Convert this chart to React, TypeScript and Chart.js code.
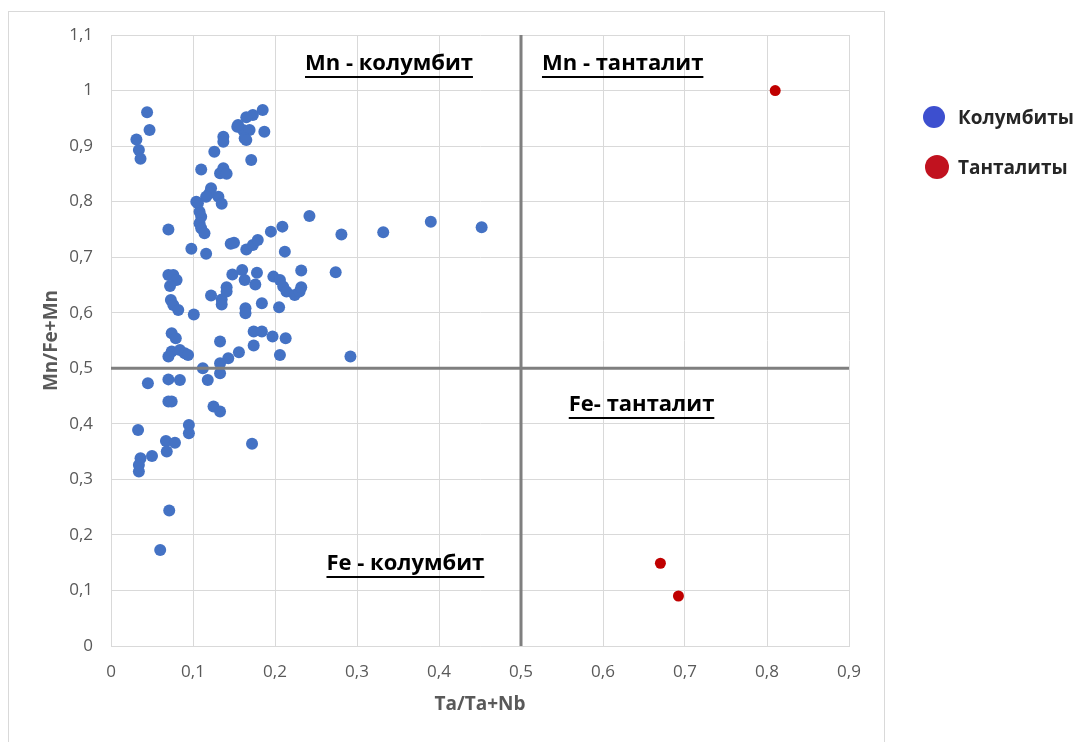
import React, { useEffect, useRef } from 'react';
import { Chart, registerables } from 'chart.js';

Chart.register(...registerables);

// Колумбиты: Ta/(Ta+Nb) and Mn/(Fe+Mn)
const columbiteX = [
  0.044, 0.047, 0.031, 0.034, 0.036,
  0.185, 0.173, 0.165, 0.154, 0.161, 0.169, 0.163, 0.187, 0.137, 0.137, 0.126, 0.171, 0.110, 0.137, 0.133,
  0.141, 0.122, 0.120, 0.116, 0.131, 0.135, 0.106, 0.108, 0.110, 0.108, 0.110, 0.114, 0.070, 0.098, 0.116,
  0.146, 0.150, 0.165, 0.173, 0.179, 0.195, 0.209, 0.212, 0.155, 0.165, 0.104,
  0.242, 0.281, 0.332, 0.390, 0.452,
  0.070, 0.076, 0.080, 0.072, 0.073, 0.076, 0.082, 0.101, 0.122, 0.135, 0.135, 0.141, 0.141, 0.148, 0.160,
  0.163, 0.178, 0.176, 0.164, 0.164, 0.184, 0.205, 0.198, 0.206, 0.210, 0.214, 0.224, 0.230, 0.232, 0.232, 0.274,
  0.074, 0.079, 0.074, 0.070, 0.084, 0.090, 0.094, 0.174, 0.184, 0.197, 0.213, 0.133, 0.174, 0.156, 0.206,
  0.143, 0.133, 0.292, 0.112,
  0.045, 0.070, 0.084, 0.118, 0.133, 0.070, 0.074, 0.125, 0.133, 0.095, 0.095, 0.033, 0.172, 0.067, 0.078,
  0.068, 0.050, 0.036, 0.034, 0.034, 0.071, 0.060,
];
const columbiteY = [
  0.961, 0.929, 0.912, 0.893, 0.877,
  0.965, 0.956, 0.952, 0.935, 0.929, 0.929, 0.914, 0.926, 0.917, 0.908, 0.890, 0.875, 0.858, 0.860, 0.851,
  0.850, 0.824, 0.815, 0.809, 0.809, 0.796, 0.797, 0.782, 0.773, 0.761, 0.752, 0.743, 0.750, 0.715, 0.706,
  0.724, 0.726, 0.714, 0.722, 0.731, 0.746, 0.755, 0.710, 0.938, 0.911, 0.800,
  0.774, 0.741, 0.745, 0.764, 0.754,
  0.668, 0.668, 0.659, 0.648, 0.623, 0.614, 0.605, 0.597, 0.631, 0.624, 0.615, 0.646, 0.638, 0.669, 0.677,
  0.659, 0.672, 0.651, 0.608, 0.599, 0.617, 0.610, 0.665, 0.659, 0.647, 0.638, 0.632, 0.638, 0.646, 0.676, 0.673,
  0.563, 0.554, 0.530, 0.521, 0.533, 0.527, 0.524, 0.566, 0.566, 0.557, 0.554, 0.548, 0.541, 0.529, 0.524,
  0.518, 0.509, 0.521, 0.500,
  0.473, 0.480, 0.479, 0.479, 0.491, 0.440, 0.440, 0.431, 0.422, 0.398, 0.383, 0.389, 0.364, 0.369, 0.366,
  0.350, 0.342, 0.338, 0.326, 0.314, 0.244, 0.173,
];

// Танталиты
const tantaliteX = [0.81, 0.67, 0.692];
const tantaliteY = [1.0, 0.149, 0.09];

const xTicks = [0, 0.1, 0.2, 0.3, 0.4, 0.5, 0.6, 0.7, 0.8, 0.9];
const yTicks = [0, 0.1, 0.2, 0.3, 0.4, 0.5, 0.6, 0.7, 0.8, 0.9, 1.0, 1.1];

const dividerX = 0.5;
const dividerY = 0.5;

const quadrantLabels = ['Mn - колумбит', 'Mn - танталит', 'Fe- танталит', 'Fe - колумбит'];
const quadrantLabelX = [0.339, 0.624, 0.647, 0.359];
const quadrantLabelY = [1.037, 1.037, 0.423, 0.137];

const xTitle = 'Ta/Ta+Nb';
const yTitle = 'Mn/Fe+Mn';
const seriesNames = ['Колумбиты', 'Танталиты'];

const FONT = '"Open Sans", "DejaVu Sans", sans-serif';

const fmt = (v: number) => {
  const r = Math.round(v * 10) / 10;
  return String(r).replace('.', ',');
};

const annotatePlugin = {
  id: 'annotate',
  afterDatasetsDraw(chart: any) {
    const { ctx, scales } = chart;
    const x = scales.x;
    const y = scales.y;
    ctx.save();
    ctx.fillStyle = '#000000';
    ctx.strokeStyle = '#000000';
    ctx.font = `bold 22px ${FONT}`;
    ctx.textAlign = 'center';
    ctx.textBaseline = 'alphabetic';
    quadrantLabels.forEach((t, i) => {
      const px = x.getPixelForValue(quadrantLabelX[i]);
      const py = y.getPixelForValue(quadrantLabelY[i]);
      ctx.fillText(t, px, py);
      const w = ctx.measureText(t).width;
      ctx.lineWidth = 2;
      ctx.beginPath();
      ctx.moveTo(px - w / 2, py + 7);
      ctx.lineTo(px + w / 2, py + 7);
      ctx.stroke();
    });
    ctx.fillStyle = '#595959';
    ctx.font = `bold 19px ${FONT}`;
    ctx.textBaseline = 'middle';
    ctx.fillText(xTitle, (x.left + x.right) / 2, 705);
    ctx.translate(52, (y.top + y.bottom) / 2);
    ctx.rotate(-Math.PI / 2);
    ctx.fillText(yTitle, 0, 0);
    ctx.restore();
  },
};

export default function App() {
  const canvasRef = useRef<HTMLCanvasElement | null>(null);

  useEffect(() => {
    if (!canvasRef.current) return;
    const columbites = columbiteX.map((v, i) => ({ x: v, y: columbiteY[i] }));
    const tantalites = tantaliteX.map((v, i) => ({ x: v, y: tantaliteY[i] }));
    const chart = new Chart(canvasRef.current, {
      type: 'scatter',
      data: {
        datasets: [
          {
            label: 'v',
            data: [{ x: dividerX, y: 0 }, { x: dividerX, y: 1.1 }],
            showLine: true,
            pointRadius: 0,
            borderColor: '#7f7f7f',
            borderWidth: 3,
          },
          {
            label: 'h',
            data: [{ x: 0, y: dividerY }, { x: 0.9, y: dividerY }],
            showLine: true,
            pointRadius: 0,
            borderColor: '#7f7f7f',
            borderWidth: 3,
          },
          {
            label: seriesNames[1],
            data: tantalites,
            pointRadius: 5.5,
            pointBackgroundColor: '#C00000',
            pointBorderWidth: 0,
            borderWidth: 0,
          },
          {
            label: seriesNames[0],
            data: columbites,
            pointRadius: 6,
            pointBackgroundColor: '#4472C4',
            pointBorderWidth: 0,
            borderWidth: 0,
          },
        ],
      } as any,
      options: {
        animation: false,
        responsive: false,
        devicePixelRatio: 1,
        layout: { padding: { left: 0, right: 227, top: 35, bottom: 0 } },
        plugins: { legend: { display: false }, tooltip: { enabled: false } },
        scales: {
          x: {
            type: 'linear',
            min: 0,
            max: 0.9,
            afterBuildTicks: (s: any) => {
              s.ticks = xTicks.map((v) => ({ value: v }));
            },
            afterFit: (s: any) => {
              s.height = 96;
            },
            grid: { color: '#d9d9d9', lineWidth: 1, tickLength: 13, tickColor: 'rgba(0,0,0,0)' },
            border: { color: '#d9d9d9', width: 1 },
            ticks: {
              padding: 3,
              color: '#595959',
              font: { family: FONT, size: 17 },
              callback: (v: any) => fmt(Number(v)),
              maxRotation: 0,
              autoSkip: false,
            },
          },
          y: {
            type: 'linear',
            min: 0,
            max: 1.1,
            afterBuildTicks: (s: any) => {
              s.ticks = yTicks.map((v) => ({ value: v }));
            },
            afterFit: (s: any) => {
              s.width = 111;
            },
            grid: { color: '#d9d9d9', lineWidth: 1, tickLength: 15, tickColor: 'rgba(0,0,0,0)' },
            border: { color: '#d9d9d9', width: 1 },
            ticks: {
              padding: 3,
              color: '#595959',
              font: { family: FONT, size: 17 },
              callback: (v: any) => fmt(Number(v)),
              autoSkip: false,
            },
          },
        },
      } as any,
      plugins: [annotatePlugin],
    });
    return () => chart.destroy();
  }, []);

  return (
    <div style={{ position: 'fixed', left: 0, top: 0, width: 1076, height: 742, background: '#ffffff', overflow: 'hidden' }}>
      <div
        style={{
          position: 'absolute',
          left: 8,
          top: 11,
          width: 877,
          height: 740,
          border: '1.5px solid #d9d9d9',
          boxSizing: 'border-box',
        }}
      />
      <canvas ref={canvasRef} width={1076} height={742} style={{ position: 'absolute', left: 0, top: 0 }} />
      {[
        { name: seriesNames[0], color: '#3D4FCF', cx: 934, cy: 117, r: 11 },
        { name: seriesNames[1], color: '#C1121F', cx: 937, cy: 167, r: 12 },
      ].map((it) => (
        <React.Fragment key={it.name}>
          <div
            style={{
              position: 'absolute',
              left: it.cx - it.r,
              top: it.cy - it.r,
              width: it.r * 2,
              height: it.r * 2,
              borderRadius: '50%',
              background: it.color,
            }}
          />
          <div
            style={{
              position: 'absolute',
              left: 958,
              top: it.cy - 14,
              height: 28,
              lineHeight: '28px',
              fontFamily: FONT,
              fontWeight: 700,
              fontSize: 19,
              color: '#262626',
              whiteSpace: 'nowrap',
            }}
          >
            {it.name}
          </div>
        </React.Fragment>
      ))}
    </div>
  );
}
